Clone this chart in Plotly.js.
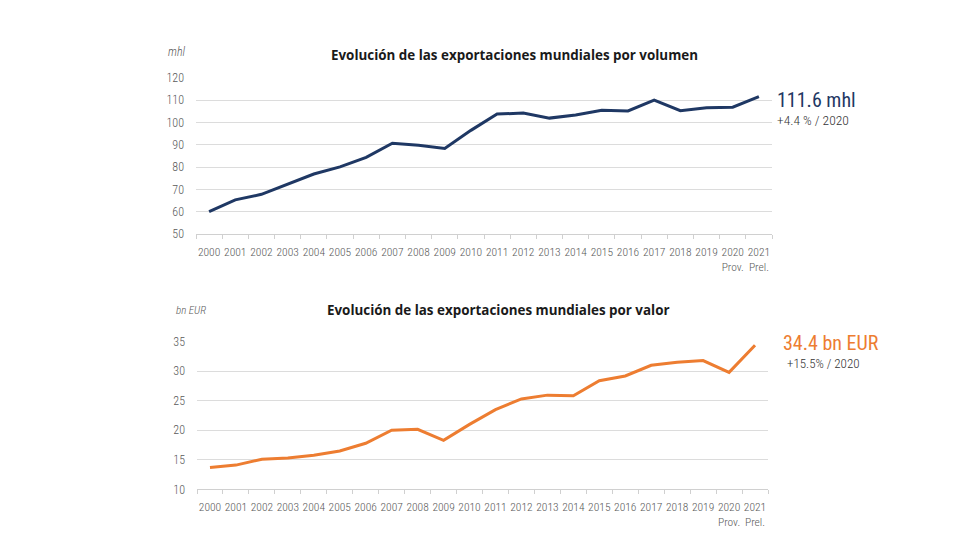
<!DOCTYPE html>
<html>
<head>
<meta charset="utf-8">
<script src="https://cdn.plot.ly/plotly-3.0.1.min.js"></script>
<style>html,body{margin:0;padding:0;background:#fff;}#chart{width:980px;height:560px;}</style>
</head>
<body>
<div id="chart"></div>
<script>
const years = ["2000","2001","2002","2003","2004","2005","2006","2007","2008","2009","2010","2011","2012","2013","2014","2015","2016","2017","2018","2019","2020","2021"];
const tickLabels = ["2000","2001","2002","2003","2004","2005","2006","2007","2008","2009","2010","2011","2012","2013","2014","2015","2016","2017","2018","2019","2020<br>Prov.","2021<br>Prel."];
const volumeMhl = [60.0,65.3,67.8,72.3,76.9,80.1,84.4,90.7,89.8,88.4,96.5,103.8,104.3,102.0,103.4,105.5,105.2,110.1,105.3,106.7,106.9,111.6];
const valueBnEur = [13.7,14.1,15.1,15.3,15.75,16.5,17.8,20.0,20.15,18.3,21.0,23.5,25.3,25.95,25.85,28.4,29.2,31.0,31.5,31.8,29.8,34.4];
const volTicks = [50,60,70,80,90,100,110,120];
const valTicks = [10,15,20,25,30,35];

const W = 980, H = 560;
const px = x => x / W;
const py = y => 1 - y / H;
const cond = "Roboto Condensed, Liberation Sans, sans-serif";
const grey = "#595959";
const navy = "#1f3864";
const orange = "#ed7d31";

const xCommon = {
  type: "category",
  tickvals: years,
  ticktext: tickLabels,
  tickson: "boundaries",
  ticks: "outside",
  ticklen: 4,
  tickcolor: "#d0d0d0",
  showline: true,
  linecolor: "#d0d0d0",
  linewidth: 1,
  showgrid: false,
  zeroline: false,
  tickangle: 0,
  range: [-0.5, 21.5],
  ticklabelstandoff: 7,
  tickfont: {family: cond, size: 11.5, weight: 300, color: grey},
  fixedrange: true
};
const yCommon = {
  showgrid: true,
  gridcolor: "#dcdcdc",
  gridwidth: 1,
  zeroline: false,
  showline: false,
  ticks: "",
  ticklabelstandoff: 11,
  tickfont: {family: cond, size: 12, weight: 300, color: grey},
  fixedrange: true
};

const traces = [
  {x: years, y: volumeMhl, type: "scatter", mode: "lines", line: {color: navy, width: 3}, xaxis: "x", yaxis: "y", hoverinfo: "skip"},
  {x: years, y: valueBnEur, type: "scatter", mode: "lines", line: {color: orange, width: 3}, xaxis: "x2", yaxis: "y2", hoverinfo: "skip"}
];

const layout = {
  width: W, height: H,
  margin: {l: 0, r: 0, t: 0, b: 0},
  paper_bgcolor: "#fff",
  plot_bgcolor: "#fff",
  showlegend: false,
  xaxis: Object.assign({}, xCommon, {domain: [px(196), px(772)], anchor: "y"}),
  yaxis: Object.assign({}, yCommon, {domain: [py(234), py(78)], range: [50, 120], tickvals: volTicks, anchor: "x"}),
  xaxis2: Object.assign({}, xCommon, {domain: [px(197), px(768)], anchor: "y2"}),
  yaxis2: Object.assign({}, yCommon, {domain: [py(489.3), py(341.7)], range: [10, 35], tickvals: valTicks, anchor: "x2"}),
  annotations: [
    {text: "<b>Evolución de las exportaciones mundiales por volumen</b>", xref: "paper", yref: "paper", x: px(514), y: py(55), xanchor: "center", yanchor: "middle", showarrow: false, font: {family: "Open Sans, sans-serif", size: 13.4, color: "#1a1a1a"}},
    {text: "<b>Evolución de las exportaciones mundiales por valor</b>", xref: "paper", yref: "paper", x: px(498), y: py(310), xanchor: "center", yanchor: "middle", showarrow: false, font: {family: "Open Sans, sans-serif", size: 13.4, color: "#1a1a1a"}},
    {text: "<i>mhl</i>", xref: "paper", yref: "paper", x: px(166), y: py(52), xanchor: "left", yanchor: "middle", showarrow: false, font: {family: cond, size: 12, weight: 300, color: grey}},
    {text: "<i>bn EUR</i>", xref: "paper", yref: "paper", x: px(174), y: py(310), xanchor: "left", yanchor: "middle", showarrow: false, font: {family: cond, size: 11, weight: 300, color: grey}},
    {text: "111.6 mhl", xref: "paper", yref: "paper", x: px(775), y: py(100), xanchor: "left", yanchor: "middle", showarrow: false, font: {family: cond, size: 20, color: navy}},
    {text: "+4.4 % / 2020", xref: "paper", yref: "paper", x: px(775), y: py(120), xanchor: "left", yanchor: "middle", showarrow: false, font: {family: cond, size: 13.5, weight: 300, color: "#333333"}},
    {text: "34.4 bn EUR", xref: "paper", yref: "paper", x: px(781), y: py(343), xanchor: "left", yanchor: "middle", showarrow: false, font: {family: cond, size: 20, color: orange}},
    {text: "+15.5% / 2020", xref: "paper", yref: "paper", x: px(785), y: py(363), xanchor: "left", yanchor: "middle", showarrow: false, font: {family: cond, size: 13, weight: 300, color: "#333333"}}
  ]
};

Plotly.newPlot("chart", traces, layout, {displayModeBar: false, staticPlot: true});
</script>
</body>
</html>
